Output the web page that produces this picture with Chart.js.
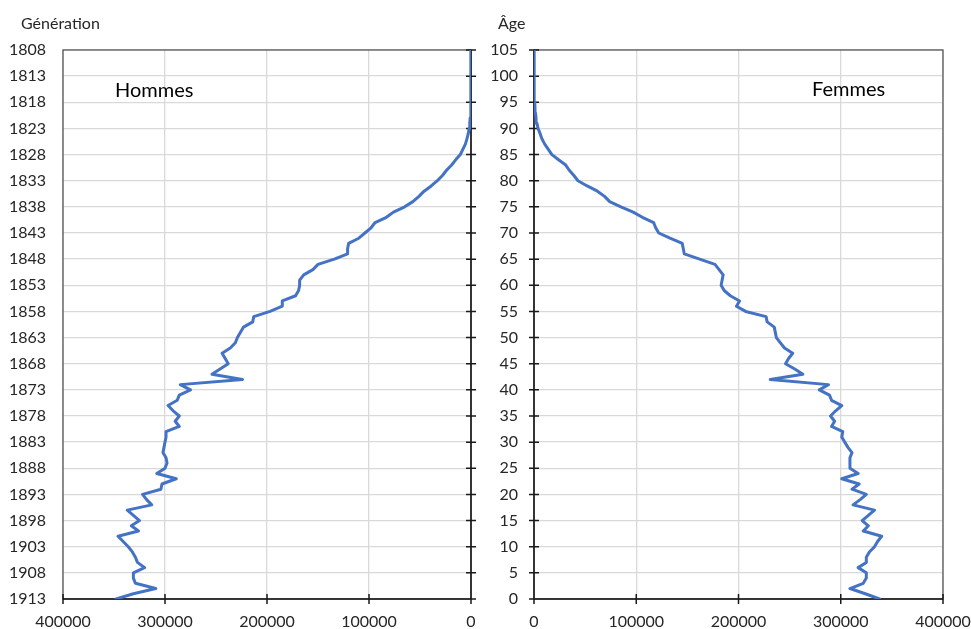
<!DOCTYPE html>
<html lang="fr">
<head>
<meta charset="utf-8">
<title>Hommes et femmes selon l'âge</title>
<script src="https://cdn.jsdelivr.net/npm/chart.js"></script>
<style>
  html, body { margin: 0; padding: 0; background: #fff; }
  #page { position: relative; width: 971px; height: 629px; font-family: Lato, "Open Sans", sans-serif; color: #262626; }
  #gauche { position: absolute; left: 0; top: 0; }
  #droite { position: absolute; left: 485px; top: 0; }
  .titre { position: absolute; font-size: 16px; line-height: 19px; }
  .sexe { position: absolute; font-size: 20px; line-height: 24px; color: #000; }
</style>
</head>
<body>
<div id="page">
  <canvas id="gauche" width="485" height="629"></canvas>
  <canvas id="droite" width="486" height="629"></canvas>
  <div class="titre" style="left:21px;top:13px">Génération</div>
  <div class="titre" style="left:498px;top:13px">Âge</div>
  <div class="sexe" style="left:115px;top:77px">Hommes</div>
  <div class="sexe" style="left:812px;top:76px">Femmes</div>
</div>
<script>
// Âges de 0 à 105 ans (l'âge 0 correspond à la génération 1913)
const ages = [];
for (let a = 0; a <= 105; a++) ages.push(a);
const anneeRef = 1913;

// Effectifs, un par âge (0 -> 105)
const hommes = [
  348000, 331000, 309000, 329000, 331000, 331000, 320000, 327000, 329000, 332000,
  336000, 341000, 346000, 326000, 333000, 325000, 331000, 337000, 313000, 318000,
  322000, 304000, 303000, 289000, 308000, 300000, 298000, 299000, 302000, 301000,
  300000, 299000, 299000, 286000, 290000, 286000, 292000, 297000, 288000, 286000,
  275000, 285000, 224000, 254000, 246000, 238000, 241000, 244000, 236000, 231000,
  229000, 226000, 223000, 214000, 213000, 197000, 185000, 185000, 172000, 169000,
  168000, 168000, 164000, 155000, 150000, 134000, 121000, 121000, 120000, 110000,
  104000, 98000, 94000, 83000, 76000, 65000, 57000, 51000, 46000, 39000,
  33000, 28000, 24000, 19000, 15000, 10500, 8000, 5500, 4000, 2700,
  1800, 1200, 800, 550, 400, 280, 200, 140, 100, 70,
  50, 30, 20, 15, 10, 5
];
const femmes = [
  338000, 324000, 309000, 322000, 325000, 325000, 317000, 325000, 325000, 328000,
  333000, 336000, 340000, 322000, 327000, 321000, 327000, 333000, 312000, 319000,
  325000, 311000, 318000, 301000, 317000, 309000, 309000, 309000, 311000, 307000,
  304000, 301000, 302000, 291000, 294000, 290000, 295000, 301000, 291000, 289000,
  279000, 288000, 231000, 263000, 255000, 246000, 249000, 253000, 245000, 241000,
  237000, 236000, 235000, 228000, 227000, 207000, 198000, 201000, 192000, 186000,
  183000, 184000, 185000, 181000, 177000, 162000, 147000, 146000, 145000, 133000,
  122000, 119000, 117000, 106000, 97000, 85000, 74000, 69000, 62000, 52000,
  43000, 39000, 34500, 31000, 24000, 17500, 14000, 10500, 7800, 6000,
  4000, 2800, 2000, 1400, 1000, 700, 500, 350, 250, 180,
  120, 80, 50, 30, 20, 10
];

// Graduations
const ticksGenerations = [1808, 1813, 1818, 1823, 1828, 1833, 1838, 1843, 1848, 1853, 1858,
  1863, 1868, 1873, 1878, 1883, 1888, 1893, 1898, 1903, 1908, 1913];
const ticksAges = [0, 5, 10, 15, 20, 25, 30, 35, 40, 45, 50, 55, 60, 65, 70, 75, 80, 85, 90, 95, 100, 105];
const ticksEffectifs = [0, 100000, 200000, 300000, 400000];

Chart.defaults.font.family = 'Lato, "Open Sans", sans-serif';
Chart.defaults.font.size = 16;
Chart.defaults.color = '#262626';

// Cadre + axe à zéro avec graduations qui traversent
const cadre = {
  id: 'cadre',
  beforeDatasetsDraw(chart) {
    const { ctx, chartArea: a, scales: { x, y } } = chart;
    ctx.save();
    ctx.strokeStyle = '#595959';
    ctx.lineWidth = 1.3;
    ctx.strokeRect(a.left, a.top, a.width, a.height);
    const x0 = x.getPixelForValue(0);
    ctx.strokeStyle = '#1a1a1a';
    ctx.lineWidth = 1.5;
    ctx.beginPath();
    ctx.moveTo(x0, a.top);
    ctx.lineTo(x0, a.bottom);
    y.ticks.forEach(t => {
      const py = y.getPixelForValue(t.value);
      ctx.moveTo(x0 - 5, py);
      ctx.lineTo(x0 + 5, py);
    });
    ctx.moveTo(a.left, a.bottom);
    ctx.lineTo(a.right, a.bottom);
    x.ticks.forEach(t => {
      const px = x.getPixelForValue(t.value);
      ctx.moveTo(px, a.bottom - 5);
      ctx.lineTo(px, a.bottom + 5);
    });
    ctx.stroke();
    ctx.restore();
  }
};

// pas de marge automatique pour les étiquettes qui débordent
function sansMarge(s) {
  s.paddingLeft = 0;
  s.paddingRight = 0;
  s.paddingTop = 0;
  s.paddingBottom = 0;
}

function creerPanneau(id, valeurs, gauche) {
  const points = valeurs.map((v, i) => ({
    x: v,
    y: gauche ? anneeRef - ages[i] : ages[i]
  }));
  const yTicks = gauche ? ticksGenerations : ticksAges;

  return new Chart(document.getElementById(id), {
    type: 'line',
    data: {
      datasets: [{
        data: points,
        borderColor: '#4472C4',
        borderWidth: 3,
        borderJoinStyle: 'round',
        borderCapStyle: 'round',
        pointRadius: 0,
        tension: 0,
        fill: false
      }]
    },
    options: {
      responsive: false,
      animation: false,
      layout: { padding: { top: 50, right: gauche ? 14 : 28, left: 0, bottom: 0 } },
      plugins: { legend: { display: false }, tooltip: { enabled: false } },
      scales: {
        x: {
          type: 'linear',
          min: 0,
          max: 400000,
          reverse: gauche,
          afterBuildTicks: s => { s.ticks = ticksEffectifs.map(v => ({ value: v })); },
          afterFit: s => { s.height = 30; sansMarge(s); },
          ticks: { padding: 13, maxRotation: 0, callback: v => String(v) },
          grid: { color: '#d9d9d9', lineWidth: 1.3, drawTicks: false },
          border: { display: false }
        },
        y: {
          type: 'linear',
          min: gauche ? 1808 : 0,
          max: gauche ? 1913 : 105,
          reverse: gauche,
          afterBuildTicks: s => { s.ticks = yTicks.map(v => ({ value: v })); },
          afterFit: s => { s.width = gauche ? 63 : 49; sansMarge(s); },
          ticks: { padding: gauche ? 17 : 16, callback: v => String(v) },
          grid: { color: '#d9d9d9', lineWidth: 1.3, drawTicks: false },
          border: { display: false }
        }
      }
    },
    plugins: [cadre]
  });
}

creerPanneau('gauche', hommes, true);
creerPanneau('droite', femmes, false);
</script>
</body>
</html>
